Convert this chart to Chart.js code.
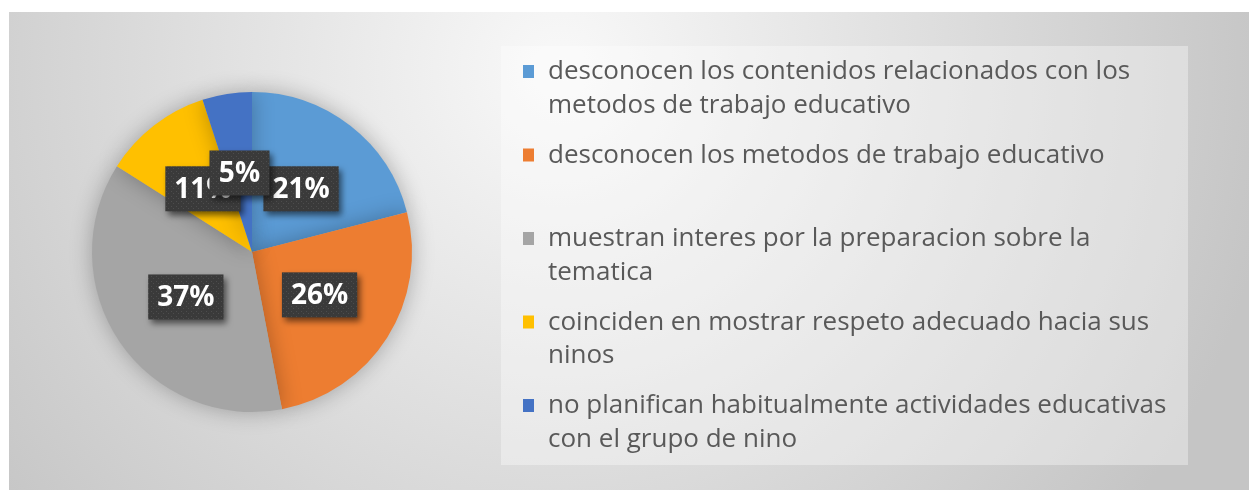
<!DOCTYPE html>
<html>
<head>
<meta charset="utf-8">
<script src="https://cdn.jsdelivr.net/npm/chart.js@4.4.1/dist/chart.umd.min.js"></script>
<style>
  html, body { margin: 0; padding: 0; background: #ffffff; }
  #wrap { width: 1249px; height: 490px; }
</style>
</head>
<body>
<div id="wrap"><canvas id="c" width="1249" height="490"></canvas></div>
<script>
// ---- data ----
const categories = [
  ["desconocen los contenidos relacionados con los", "metodos de trabajo educativo"],
  ["desconocen los metodos de trabajo educativo", ""],
  ["muestran interes por la preparacion sobre la", "tematica"],
  ["coinciden en mostrar respeto adecuado hacia sus", "ninos"],
  ["no planifican habitualmente actividades educativas", "con el grupo de nino"]
];
const percentages = [21, 26, 37, 11, 5];
const sliceColors = ["#5B9BD5", "#ED7D31", "#A5A5A5", "#FFC000", "#4472C4"];

// ---- background plugin ----
const bgPlugin = {
  id: 'bg',
  beforeDraw(chart) {
    const ctx = chart.ctx;
    ctx.save();
    const g = ctx.createRadialGradient(560, 70, 0, 560, 70, 720);
    g.addColorStop(0, '#f9f9f9');
    g.addColorStop(1, '#c5c5c5');
    ctx.fillStyle = g;
    ctx.fillRect(9, 12, 1240, 478);
    // legend panel
    ctx.fillStyle = 'rgba(255,255,255,0.35)';
    ctx.fillRect(501, 46, 687, 419);
    ctx.restore();
  }
};

// ---- soft shadow behind pie ----
const shadowPlugin = {
  id: 'pieShadow',
  beforeDatasetsDraw(chart) {
    const ctx = chart.ctx;
    ctx.save();
    ctx.shadowColor = 'rgba(0,0,0,0.28)';
    ctx.shadowBlur = 22;
    ctx.shadowOffsetX = 0;
    ctx.shadowOffsetY = 0;
  },
  afterDatasetsDraw(chart) {
    chart.ctx.restore();
  }
};

// ---- dotted texture for label boxes ----
function makePattern(ctx) {
  const pc = document.createElement('canvas');
  pc.width = 5; pc.height = 5;
  const p = pc.getContext('2d');
  p.fillStyle = '#3a3a3a';
  p.fillRect(0, 0, 5, 5);
  p.fillStyle = '#4d4d4d';
  p.fillRect(1, 1, 1, 1);
  p.fillRect(3, 3, 1, 1);
  return ctx.createPattern(pc, 'repeat');
}

// ---- data labels ----
const labelPlugin = {
  id: 'pctLabels',
  afterDatasetsDraw(chart) {
    const ctx = chart.ctx;
    const meta = chart.getDatasetMeta(0);
    const pat = makePattern(ctx);
    ctx.save();
    ctx.font = 'bold 28px "Open Sans", "Liberation Sans", sans-serif';
    ctx.textAlign = 'center';
    ctx.textBaseline = 'middle';
    meta.data.forEach((arc, i) => {
      const pos = arc.tooltipPosition();
      const txt = percentages[i] + '%';
      const w = Math.max(ctx.measureText(txt).width + 18, 60);
      const h = 45;
      ctx.save();
      ctx.shadowColor = 'rgba(0,0,0,0.55)';
      ctx.shadowBlur = 6;
      ctx.shadowOffsetX = 3;
      ctx.shadowOffsetY = 4;
      ctx.fillStyle = pat;
      ctx.fillRect(pos.x - w / 2, pos.y - h / 2, w, h);
      ctx.restore();
      ctx.fillStyle = '#ffffff';
      ctx.fillText(txt, pos.x, pos.y + 1);
    });
    ctx.restore();
  }
};

// ---- custom legend ----
const legendPlugin = {
  id: 'sideLegend',
  afterDraw(chart) {
    const ctx = chart.ctx;
    const labels = chart.data.labels;
    const colors = chart.data.datasets[0].backgroundColor;
    ctx.save();
    ctx.font = '26px "Open Sans", "Liberation Sans", sans-serif';
    ctx.textBaseline = 'middle';
    ctx.textAlign = 'left';
    const firstY = 72, itemStep = 83.5, lineH = 33.5;
    labels.forEach((lines, i) => {
      const y0 = firstY + i * itemStep;
      ctx.fillStyle = colors[i];
      ctx.fillRect(523, y0 - 7, 11, 13);
      ctx.fillStyle = '#595959';
      lines.forEach((ln, j) => {
        ctx.fillText(ln, 548, y0 + j * lineH);
      });
    });
    ctx.restore();
  }
};

new Chart(document.getElementById('c'), {
  type: 'pie',
  data: {
    labels: categories,
    datasets: [{
      data: percentages,
      backgroundColor: sliceColors,
      borderWidth: 0
    }]
  },
  options: {
    responsive: false,
    animation: false,
    devicePixelRatio: 1,
    layout: { padding: { left: 92, right: 837, top: 92, bottom: 78 } },
    plugins: {
      legend: { display: false },
      tooltip: { enabled: false },
      title: { display: false }
    }
  },
  plugins: [bgPlugin, shadowPlugin, labelPlugin, legendPlugin]
});
</script>
</body>
</html>
